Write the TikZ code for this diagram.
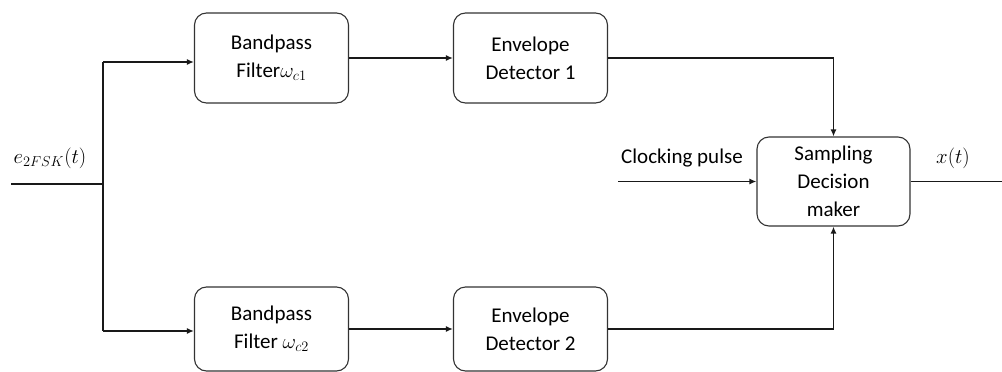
\documentclass[tikz,border=0pt]{standalone}
\usepackage{fontspec}
\setmainfont{Carlito}
\usetikzlibrary{arrows.meta}
\begin{document}
\begin{tikzpicture}[x=1pt,y=-1pt,
  blk/.style={draw=black!80, line width=1.1pt, rounded corners=12pt, align=center,
    inner sep=0pt, font=\fontsize{21}{28}\selectfont},
  conn/.style={line width=1.5pt, draw=black!90},
  arr/.style={conn, -{Latex[length=7pt,width=6pt]}},
  lbl/.style={font=\fontsize{21}{25}\selectfont, inner sep=0pt}]
\useasboundingbox (0,0) rectangle (1002,372);
\node[blk, minimum width=154pt, minimum height=90pt] (bp1) at (271.5,58) {Bandpass\\Filter$\omega_{c1}$};
\node[blk, minimum width=154pt, minimum height=90pt] (ed1) at (530.5,58) {Envelope\\Detector 1};
\node[blk, minimum width=154pt, minimum height=84pt] (bp2) at (271.5,329) {Bandpass\\Filter $\omega_{c2}$};
\node[blk, minimum width=154pt, minimum height=84pt] (ed2) at (530.5,329) {Envelope\\Detector 2};
\node[blk, minimum width=153pt, minimum height=89pt] (sd) at (833.5,181.5) {Sampling\\Decision\\maker};
\node[lbl] (ein) at (50,158) {$e_{2FSK}(t)$};
\node[lbl] (clk) at (682,158) {Clocking pulse};
\node[lbl] (xout) at (953,158) {$x(t)$};
\coordinate (in) at (11,184);
\coordinate (sp) at (103,184);
\coordinate (spt) at (103,62);
\coordinate (spb) at (103,331);
\coordinate (clkin) at (618,181.5);
\coordinate (out) at (1002,181.5);
\draw[conn] (in) -- (sp);
\draw[conn] (spt) -- (spb);
\draw[arr] (spt) -- (spt -| bp1.west);
\draw[arr] (spb) -- (spb -| bp2.west);
\draw[arr] (bp1.east) -- (ed1.west);
\draw[arr] (bp2.east) -- (ed2.west);
\draw[arr] (ed1.east) -| (sd.north);
\draw[arr] (ed2.east) -| (sd.south);
\draw[arr] (clkin) -- (sd.west);
\draw[conn] (sd.east) -- (out);
\end{tikzpicture}
\end{document}
